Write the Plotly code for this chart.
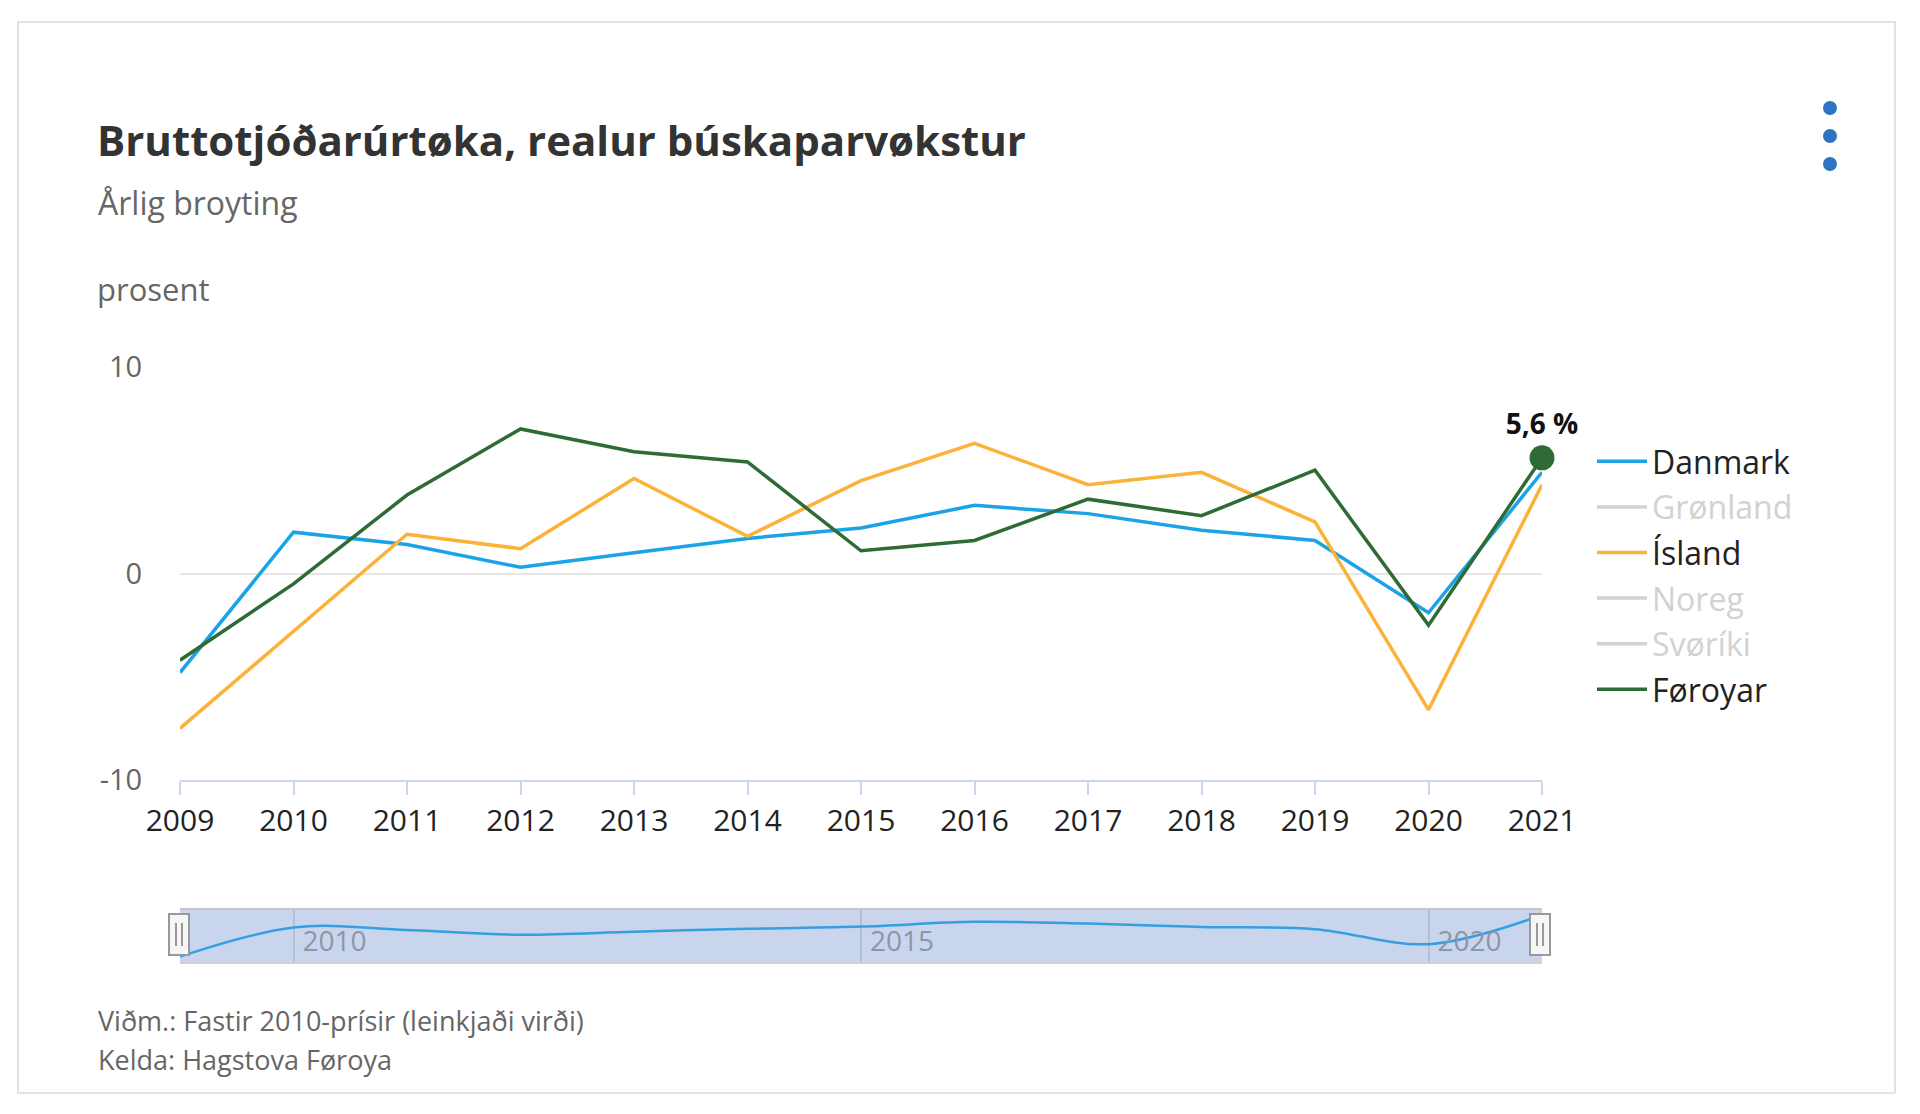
import plotly.graph_objects as go

# ---------------- data ----------------
years = [2009, 2010, 2011, 2012, 2013, 2014, 2015, 2016, 2017, 2018, 2019, 2020, 2021]
danmark = [-4.8, 2.0, 1.4, 0.3, 1.0, 1.7, 2.2, 3.3, 2.9, 2.1, 1.6, -1.9, 4.9]
island = [-7.5, -2.8, 1.9, 1.2, 4.6, 1.8, 4.5, 6.3, 4.3, 4.9, 2.5, -6.6, 4.3]
foroyar = [-4.2, -0.5, 3.8, 7.0, 5.9, 5.4, 1.1, 1.6, 3.6, 2.8, 5.0, -2.5, 5.6]
# series switched off in the legend (values not visible in the picture)
gronland = [None] * len(years)
noreg = [None] * len(years)
svoriki = [None] * len(years)
year_ticks = years
y_ticks = [-10, 0, 10]
y_ticktext = ["-10", "0", "10"]
nav_ticks = [2010, 2015, 2020]

title = "Bruttotjóðarúrtøka, realur búskaparvøkstur"
subtitle = "Årlig broyting"
unit = "prosent"
note = "Viðm.: Fastir 2010-prísir (leinkjaði virði)"
source = "Kelda: Hagstova Føroya"

C_DK = "#1aa3e6"
C_IS = "#fbb238"
C_FO = "#2f6b35"
C_HID = "#a6a6a6"
FONT = "Open Sans, Noto Sans, DejaVu Sans, sans-serif"

W, H = 1920, 1114
def px(x):
    return x / W
def py(y):
    return 1 - y / H

fig = go.Figure()

def hidden(name, vals):
    return go.Scatter(x=years, y=vals, name=f"<span style='color:{C_HID}'>{name}</span>",
                      mode="lines", line=dict(color=C_HID, width=3.5),
                      visible="legendonly", legendgroup=name)

fig.add_trace(go.Scatter(x=years, y=danmark, name="Danmark", mode="lines", legendgroup="dk",
                         line=dict(color=C_DK, width=3.5)))
fig.add_trace(hidden("Grønland", gronland))
fig.add_trace(go.Scatter(x=years, y=island, name="Ísland", mode="lines", legendgroup="is",
                         line=dict(color=C_IS, width=3.5)))
fig.add_trace(hidden("Noreg", noreg))
fig.add_trace(hidden("Svøríki", svoriki))
fig.add_trace(go.Scatter(x=years, y=foroyar, name="Føroyar", mode="lines", legendgroup="fo",
                         line=dict(color=C_FO, width=3.5)))

# highlighted last point
last_label = f"{foroyar[-1]:.1f}".replace(".", ",") + " %"
fig.add_trace(go.Scatter(x=[years[-1]], y=[foroyar[-1]], mode="markers+text",
                         marker=dict(color=C_FO, size=25),
                         text=[f"<b>{last_label}</b>"], textposition="top center",
                         textfont=dict(family=FONT, size=28, color="#111"),
                         showlegend=False, cliponaxis=False, hoverinfo="skip"))

# navigator series
fig.add_trace(go.Scatter(x=years, y=danmark, mode="lines", xaxis="x2", yaxis="y2",
                         line=dict(color="rgba(26,150,225,0.85)", width=2.5, shape="spline", smoothing=1.0),
                         showlegend=False, hoverinfo="skip"))

plot_x0, plot_x1 = 180, 1542
main_top, main_bot = 367, 780
nav_top, nav_bot = 909, 963

shapes = []
# card border
shapes.append(dict(type="rect", xref="paper", yref="paper", x0=px(18), x1=px(1895), y0=py(1093), y1=py(22),
                   line=dict(color="#e3e3e3", width=2), fillcolor="rgba(0,0,0,0)", layer="below"))
# navigator mask
shapes.append(dict(type="rect", xref="x2 domain", yref="y2 domain", x0=0, x1=1, y0=0, y1=1,
                   fillcolor="#c9d5ec", line=dict(width=0), layer="below"))
shapes.append(dict(type="line", xref="x2 domain", yref="y2 domain", x0=0, x1=1, y0=1, y1=1,
                   line=dict(color="#c6c6c6", width=2)))
shapes.append(dict(type="line", xref="x2 domain", yref="y2 domain", x0=0, x1=1, y0=0, y1=0,
                   line=dict(color="#d0d0d0", width=2)))
# navigator handles
for cx in (179, 1540):
    shapes.append(dict(type="rect", xref="paper", yref="paper", x0=px(cx - 10), x1=px(cx + 10),
                       y0=py(955), y1=py(914), fillcolor="#f6f6f6", line=dict(color="#999999", width=2)))
    for dx in (-3, 3):
        shapes.append(dict(type="line", xref="paper", yref="paper", x0=px(cx + dx), x1=px(cx + dx),
                           y0=py(946), y1=py(923), line=dict(color="#999999", width=2)))
# menu dots
for cy in (108, 136, 164):
    shapes.append(dict(type="circle", xref="paper", yref="paper", x0=px(1823), x1=px(1837),
                       y0=py(cy + 7), y1=py(cy - 7), fillcolor="#2f74c0", line=dict(width=0)))

annotations = [
    dict(text=subtitle, x=px(96), y=py(203), xref="paper", yref="paper", xanchor="left", yanchor="middle",
         showarrow=False, font=dict(family=FONT, size=32, color="#666666")),
    dict(text=unit, x=px(95), y=py(289), xref="paper", yref="paper", xanchor="left", yanchor="middle",
         showarrow=False, font=dict(family=FONT, size=31, color="#666666")),
    dict(text=note, x=px(96), y=py(1020), xref="paper", yref="paper", xanchor="left", yanchor="middle",
         showarrow=False, font=dict(family=FONT, size=27, color="#666666")),
    dict(text=source, x=px(96), y=py(1059), xref="paper", yref="paper", xanchor="left", yanchor="middle",
         showarrow=False, font=dict(family=FONT, size=27, color="#666666")),
]

fig.update_layout(
    width=W, height=H, autosize=False,
    margin=dict(l=0, r=0, t=0, b=0, autoexpand=False),
    paper_bgcolor="white", plot_bgcolor="white",
    font=dict(family=FONT, color="#333333"),
    title=dict(text=f"<b>{title}</b>", x=px(97), xref="container", xanchor="left",
               y=py(141), yref="container", yanchor="middle",
               font=dict(family=FONT, size=42, color="#333333")),
    xaxis=dict(domain=[px(plot_x0), px(plot_x1)], range=[years[0], years[-1]],
               tickvals=year_ticks, ticktext=[str(y) for y in year_ticks],
               showgrid=False, zeroline=False, showline=True, linecolor="#ccd6eb", linewidth=2,
               ticks="outside", ticklen=13, tickwidth=2, tickcolor="#ccd6eb", automargin=False,
               tickfont=dict(family=FONT, size=30, color="#222222"), anchor="y", fixedrange=True),
    yaxis=dict(domain=[py(main_bot), py(main_top)], range=[-10, 10], tickvals=y_ticks, ticktext=y_ticktext,
               showgrid=True, gridcolor="#e6e6e6", gridwidth=2, zeroline=False, showline=False,
               ticks="outside", ticklen=31, tickcolor="rgba(0,0,0,0)", automargin=False,
               tickfont=dict(family=FONT, size=29, color="#666666"), anchor="x", fixedrange=True),
    xaxis2=dict(domain=[px(plot_x0), px(plot_x1)], range=[years[0], years[-1]], anchor="y2",
                tickvals=nav_ticks, showgrid=True, gridcolor="rgba(120,130,150,0.25)", gridwidth=2,
                zeroline=False, showline=False, ticks="", ticklabelposition="inside right", automargin=False,
                ticklabelshift=9,
                tickfont=dict(family=FONT, size=28, color="#8f95a3"), fixedrange=True),
    yaxis2=dict(domain=[py(nav_bot), py(nav_top)], range=[-6.3, 6.3], anchor="x2",
                showgrid=False, zeroline=False, showline=False, showticklabels=False, ticks="",
                automargin=False, fixedrange=True),
    legend=dict(x=px(1592), y=py(434), xanchor="left", yanchor="top",
                font=dict(family=FONT, size=32, color="#222222"),
                bgcolor="rgba(0,0,0,0)", itemwidth=50, traceorder="grouped", tracegroupgap=1),
    shapes=shapes,
    annotations=annotations,
    showlegend=True,
    hovermode=False,
)

fig.write_html("out.html", config={"displayModeBar": False})
